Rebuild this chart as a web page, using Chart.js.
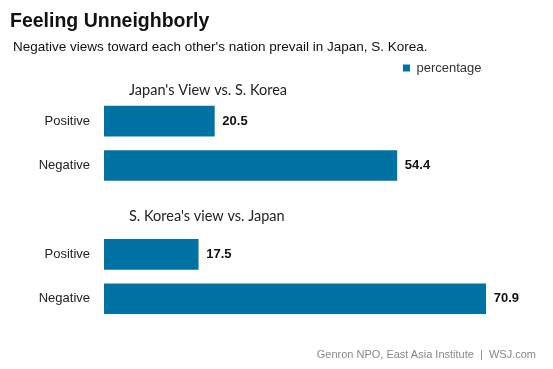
<!DOCTYPE html>
<html>
<head>
<meta charset="utf-8">
<script src="https://cdn.jsdelivr.net/npm/chart.js@4/dist/chart.umd.min.js"></script>
<style>
  html, body { margin: 0; padding: 0; background: #fff; }
  #wrap { position: relative; width: 553px; height: 369px; font-family: "Liberation Sans", Arial, sans-serif; }
  #chart { position: absolute; left: 0; top: 0; }
  .title { position: absolute; left: 10px; top: 9px; font-size: 19.5px; font-weight: bold; color: #111; }
  .sub { position: absolute; left: 13px; top: 38.5px; font-size: 13.5px; color: #111; }
  .src { position: absolute; right: 17px; top: 348px; font-size: 11px; color: #888; }
</style>
</head>
<body>
<div id="wrap">
  <canvas id="chart" width="553" height="369"></canvas>
  <div class="title">Feeling Unneighborly</div>
  <div class="sub">Negative views toward each other's nation prevail in Japan, S. Korea.</div>
  <div class="src">Genron NPO, East Asia Institute &nbsp;|&nbsp; WSJ.com</div>
</div>
<script>
// data
const categories = ['Positive', 'Negative', '', 'Positive', 'Negative'];
const percentage = [20.5, 54.4, null, 17.5, 70.9];
const headings = ["Japan's View vs. S. Korea", "S. Korea's view vs. Japan"];

const barColor = '#0072a3';

// value labels at the end of each bar
const valueLabels = {
    id: 'valueLabels',
    afterDatasetsDraw(chart) {
        const ctx = chart.ctx;
        const meta = chart.getDatasetMeta(0);
        ctx.save();
        ctx.font = 'bold 13px "Liberation Sans", Arial';
        ctx.fillStyle = '#111';
        ctx.textBaseline = 'middle';
        meta.data.forEach((bar, i) => {
            const v = percentage[i];
            if (v === null) return;
            ctx.fillText(v.toFixed(1), bar.x + 8, bar.y);
        });
        ctx.restore();
    }
};

// section headings above each group
const groupHeadings = {
    id: 'groupHeadings',
    afterDraw(chart) {
        const ctx = chart.ctx;
        const y = chart.scales.y;
        const x0 = chart.chartArea.left + 25;
        ctx.save();
        ctx.font = '14.5px Lato';
        ctx.fillStyle = '#222';
        ctx.textBaseline = 'middle';
        ctx.fillText(headings[0], x0, y.getPixelForValue(0) - 31);
        ctx.fillText(headings[1], x0, y.getPixelForValue(2) + 6);
        ctx.restore();
    }
};

Chart.defaults.font.family = '"Liberation Sans", Arial, sans-serif';

const ctx = document.getElementById('chart').getContext('2d');
const chart = new Chart(ctx, {
    type: 'bar',
    data: {
        labels: categories,
        datasets: [{
            label: 'percentage',
            data: percentage,
            backgroundColor: barColor,
            borderWidth: 0,
            barThickness: 30
        }]
    },
    options: {
        indexAxis: 'y',
        responsive: false,
        animation: false,
        layout: {
            padding: { top: 46, right: 56, bottom: 48, left: 0 }
        },
        scales: {
            x: {
                position: 'top',
                min: 0,
                max: 73,
                grid: { display: false },
                border: { display: false },
                ticks: { display: false },
                // room for the first section heading
                afterFit(scale) { scale.height = 14.4; }
            },
            y: {
                grid: { display: false },
                border: { display: false },
                ticks: {
                    padding: 6,
                    color: '#222',
                    font: { size: 13 }
                },
                afterFit(scale) { scale.width = 104; }
            }
        },
        plugins: {
            legend: {
                position: 'top',
                align: 'end',
                labels: {
                    boxWidth: 7,
                    boxHeight: 7,
                    padding: 15.5,
                    color: '#333',
                    font: { size: 13 }
                }
            },
            tooltip: { enabled: false }
        }
    },
    plugins: [valueLabels, groupHeadings]
});
</script>
</body>
</html>
